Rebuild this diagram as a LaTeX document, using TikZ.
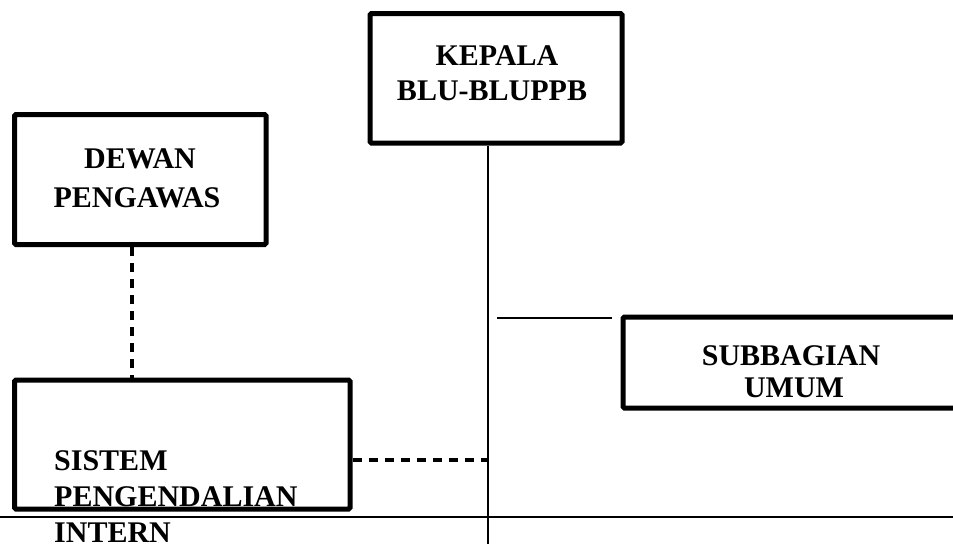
\documentclass[tikz,border=0pt]{standalone}
\usepackage{fontspec}
\setmainfont{Liberation Serif}
\begin{document}
\begin{tikzpicture}[x=1pt,y=-1pt,
  box/.style={draw,line width=5pt,rounded corners=1.5pt,inner sep=0pt,rectangle},
  lbl/.style={anchor=base,inner sep=0pt,font=\fontsize{30pt}{35pt}\selectfont\bfseries},
  thin/.style={line width=1.3pt},
  dashln/.style={line width=3.5pt,dash pattern=on 9pt off 7pt}]
\useasboundingbox (0,0) rectangle (953,544);
\clip (0,0) rectangle (953,544);
% boxes
\node[box,minimum width=252pt,minimum height=129.5pt] (kepala) at (496,78.25) {};
\node[box,minimum width=251.5pt,minimum height=130pt] (dewan) at (140.25,179.5) {};
\node[box,minimum width=335.5pt,minimum height=129pt] (sistem) at (182.25,444.5) {};
\node[box,minimum width=342pt,minimum height=91pt] (sub) at (794,362.5) {};
% texts
\node[lbl] (t1) at (497,65) {KEPALA};
\node[lbl] (t2) at (492,100) {BLU-BLUPPB};
\node[lbl] (t3) at (140,168) {DEWAN};
\node[lbl] (t4) at (137,207) {PENGAWAS};
\node[lbl,anchor=base west] (t5) at (54,470) {SISTEM};
\node[lbl,anchor=base west] (t6) at (54,506) {PENGENDALIAN};
\node[lbl,anchor=base west] (t7) at (54,542) {INTERN};
\node[lbl] (t8) at (791,365) {SUBBAGIAN};
\node[lbl] (t9) at (794,397) {UMUM};
% coordinates
\coordinate (vbot) at (488,544);
\coordinate (dx) at (132,0);
\coordinate (h) at (488,460);
\coordinate (s1) at (497,318);
\coordinate (s2) at (612,318);
\coordinate (bl) at (0,517);
\coordinate (br) at (953,517);
% connectors
\draw[thin] (kepala.south -| vbot) -- (vbot);
\draw[dashln] (dewan.south -| dx) -- (sistem.north -| dx);
\draw[dashln] (sistem.east |- h) -- (h);
\draw[thin] (s1) -- (s2);
\draw[thin] (bl) -- (br);
\end{tikzpicture}
\end{document}
